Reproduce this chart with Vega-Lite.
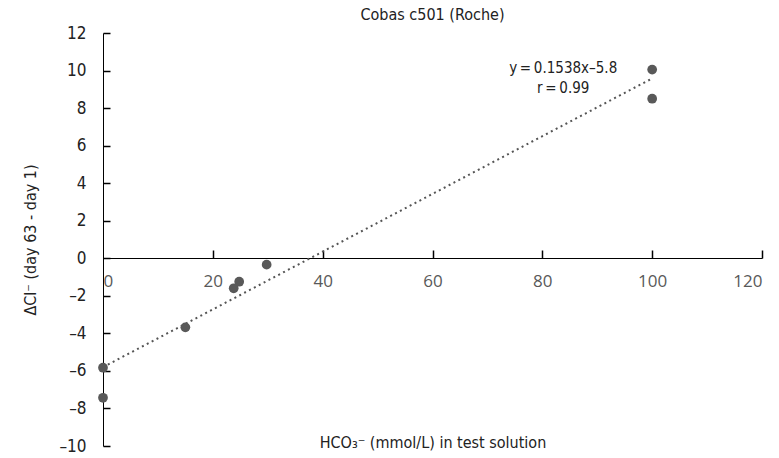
{
  "$schema": "https://vega.github.io/schema/vega-lite/v6.json",
  "width": 659,
  "height": 413,
  "autosize": {"type": "none"},
  "padding": {"left": 103, "top": 33, "right": 17, "bottom": 12},
  "background": "white",
  "config": {"view": {"stroke": null}},
  "title": {"text": "Cobas c501 (Roche)", "font": "DejaVu Sans Condensed", "fontSize": 16, "fontWeight": "normal", "color": "#222222", "offset": 1},
  "datasets": {
    "points": [
      {"x": 0, "y": -5.83},
      {"x": 0, "y": -7.43},
      {"x": 15, "y": -3.68},
      {"x": 23.8, "y": -1.6},
      {"x": 24.8, "y": -1.25},
      {"x": 29.8, "y": -0.34},
      {"x": 100, "y": 10.05},
      {"x": 100, "y": 8.5}
    ],
    "fit": [
      {"x": 0, "y": -5.8},
      {"x": 100, "y": 9.58}
    ],
    "notes": [
      {"x": 83.8, "y": 10.15, "label": "y\u2009=\u20090.1538x–5.8"},
      {"x": 83.8, "y": 9.05, "label": "r\u2009=\u20090.99"}
    ]
  },
  "resolve": {"axis": {"x": "independent", "y": "independent"}},
  "layer": [
    {
      "data": {"name": "fit"},
      "mark": {"type": "line", "color": "#555555", "strokeWidth": 2, "strokeDash": [2, 3.5]},
      "encoding": {
        "x": {"field": "x", "type": "quantitative", "scale": {"domain": [0, 120], "nice": false},
          "axis": {
            "orient": "bottom",
            "values": [0, 20, 40, 60, 80, 100, 120],
            "offset": -188,
            "domainColor": "#000000",
            "domainWidth": 1,
            "ticks": false,
            "tickSize": 0,
            "labelPadding": 15,
            "labelFont": "Open Sans",
            "labelFontSize": 17,
            "labelColor": "#595959",
            "labelOverlap": false,
            "grid": false,
            "title": "HCO₃⁻ (mmol/L) in test solution",
            "titleFont": "DejaVu Sans Condensed",
            "titleFontSize": 16,
            "titleFontWeight": "normal",
            "titleColor": "#222222",
            "titleY": 189,
            "titleBaseline": "alphabetic"
          }
        },
        "y": {"field": "y", "type": "quantitative", "scale": {"domain": [-10, 12], "nice": false},
          "axis": {
            "orient": "left",
            "values": [-10, -8, -6, -4, -2, 0, 2, 4, 6, 8, 10, 12],
            "labelExpr": "datum.value < 0 ? '–' + abs(datum.value) : datum.label",
            "domainColor": "#000000",
            "ticks": false,
            "tickSize": 0,
            "labelPadding": 17,
            "labelOverlap": false,
            "labelFont": "DejaVu Sans Condensed",
            "labelFontSize": 17,
            "labelColor": "#222222",
            "grid": false,
            "title": "ΔCl⁻ (day 63 - day 1)",
            "titleFont": "DejaVu Sans Condensed",
            "titleFontSize": 16,
            "titleFontWeight": "normal",
            "titleColor": "#222222",
            "titlePadding": 20
          }
        }
      }
    },
    {
      "data": {"name": "points"},
      "mark": {"type": "circle", "color": "#595959", "opacity": 1, "size": 95},
      "encoding": {
        "x": {"field": "x", "type": "quantitative",
          "axis": {"orient": "top", "offset": -225, "values": [20, 40, 60, 80, 100, 120], "domain": false, "labels": false, "ticks": true, "tickSize": 8, "tickWidth": 1.5, "tickColor": "#000000", "grid": false, "title": null}},
        "y": {"field": "y", "type": "quantitative",
          "axis": {"orient": "right", "offset": -659, "values": [-10, -8, -6, -4, -2, 0, 2, 4, 6, 8, 10, 12], "domain": false, "labels": false, "ticks": true, "tickSize": 7, "tickWidth": 1.5, "tickColor": "#000000", "grid": false, "title": null}}
      }
    },
    {
      "data": {"name": "notes"},
      "mark": {"type": "text", "font": "DejaVu Sans Condensed", "fontSize": 15, "color": "#222222", "align": "center", "baseline": "middle"},
      "encoding": {
        "x": {"field": "x", "type": "quantitative", "axis": null},
        "y": {"field": "y", "type": "quantitative", "axis": null},
        "text": {"field": "label"}
      }
    }
  ]
}
